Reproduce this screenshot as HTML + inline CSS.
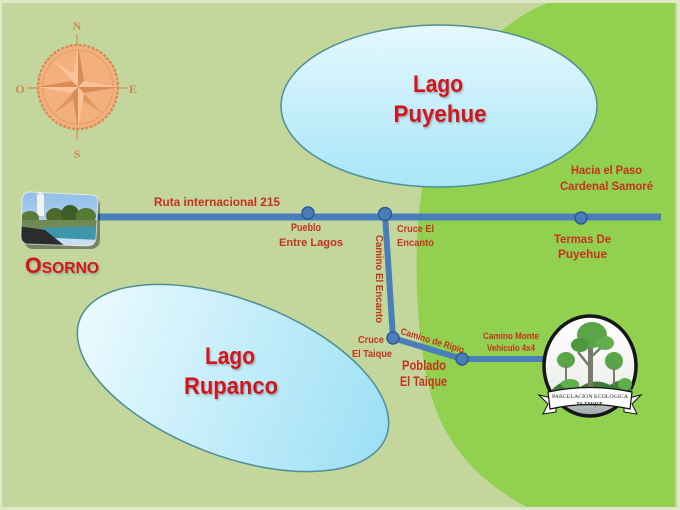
<!DOCTYPE html>
<html><head><meta charset="utf-8"><style>
html,body{margin:0;padding:0;background:#c4d79b;}
svg{display:block;}
text{font-family:"Liberation Sans",Arial,sans-serif;font-weight:bold;}
</style></head><body>
<svg width="680" height="510" viewBox="0 0 680 510" xmlns="http://www.w3.org/2000/svg">
<defs>
<linearGradient id="gp" x1="0" y1="0" x2="0" y2="1">
<stop offset="0" stop-color="#e6f8fd"/><stop offset="1" stop-color="#a8e5f9"/></linearGradient>
<linearGradient id="gr" x1="0" y1="0" x2="1" y2="0">
<stop offset="0" stop-color="#eafafe"/><stop offset="1" stop-color="#9ee0f6"/></linearGradient>
<linearGradient id="gl" x1="0" y1="0" x2="0" y2="1">
<stop offset="0" stop-color="#ffffff"/><stop offset="0.7" stop-color="#eef0ee"/><stop offset="1" stop-color="#9aa4a8"/></linearGradient>
<linearGradient id="sky" x1="0" y1="0" x2="0" y2="1">
<stop offset="0" stop-color="#8fbde8"/><stop offset="1" stop-color="#cfe3f2"/></linearGradient>
<filter id="sh" x="-10%" y="-10%" width="130%" height="140%">
<feDropShadow dx="1" dy="1.5" stdDeviation="1" flood-color="#6a6a6a" flood-opacity="0.55"/></filter>
</defs>

<rect x="0" y="0" width="680" height="510" fill="#dfe9c8"/>
<rect x="2" y="3" width="675" height="504" fill="#c3d69b"/>

<path d="M548,3 C515,15 480,45 458,80 C435,120 420,175 417,240 C415,300 420,370 438,415 C455,455 485,485 527,507 L675,507 L675,3 Z" fill="#92d050"/>

<ellipse cx="439" cy="106" rx="158" ry="81" fill="url(#gp)" stroke="#4e8f94" stroke-width="1.5"/>
<ellipse cx="233" cy="378" rx="164" ry="78" transform="rotate(21 233 378)" fill="url(#gr)" stroke="#4e8f94" stroke-width="1.5"/>

<!-- compass -->
<g>
<line x1="77" y1="34" x2="77" y2="140" stroke="#d58e5a" stroke-width="1.2"/>
<line x1="27" y1="88" x2="127" y2="88" stroke="#d58e5a" stroke-width="1.2"/>
<ellipse cx="78" cy="87" rx="40" ry="42" fill="#f4b07c" stroke="#d68a52" stroke-width="2.2" stroke-dasharray="3 1.5"/>
<ellipse cx="78" cy="87" rx="35" ry="37" fill="none" stroke="#e29e6a" stroke-width="1"/>
<polygon points="78,87 54,61 72,81" fill="#e09862"/>
<polygon points="78,87 54,61 84,81" fill="#f9c49c"/>
<polygon points="78,87 102,61 84,81" fill="#e09862"/>
<polygon points="78,87 54,113 84,93" fill="#e09862"/>
<polygon points="78,87 102,113 72,93" fill="#e09862"/>
<polygon points="78,45 72,81 78,87" fill="#f9c49c"/>
<polygon points="78,45 84,81 78,87" fill="#d98c55"/>
<polygon points="78,129 84,93 78,87" fill="#f9c49c"/>
<polygon points="78,129 72,93 78,87" fill="#d98c55"/>
<polygon points="37,87 72,81 78,87" fill="#d98c55"/>
<polygon points="37,87 72,93 78,87" fill="#f9c49c"/>
<polygon points="119,87 84,93 78,87" fill="#d98c55"/>
<polygon points="119,87 84,81 78,87" fill="#f9c49c"/>
<g font-size="12" fill="#d08a55" text-anchor="middle" style="font-family:'Liberation Serif',serif">
<text x="77" y="30" style="font-family:'Liberation Serif',serif">N</text>
<text x="77" y="158" style="font-family:'Liberation Serif',serif">S</text>
<text x="20" y="93" style="font-family:'Liberation Serif',serif">O</text>
<text x="133" y="93" style="font-family:'Liberation Serif',serif">E</text>
</g>
</g>

<!-- roads -->
<line x1="95" y1="217" x2="661" y2="217" stroke="#4a7ebb" stroke-width="7"/>
<polyline points="385,214 393,338 462,359 545,359" fill="none" stroke="#4a7ebb" stroke-width="6" stroke-linejoin="round"/>
<g fill="#4a7ebb" stroke="#2e5a8f" stroke-width="1.5">
<circle cx="308" cy="213" r="6"/>
<circle cx="385" cy="214" r="6.5"/>
<circle cx="581" cy="218" r="6"/>
<circle cx="393" cy="338" r="6"/>
<circle cx="462" cy="359" r="6"/>
</g>

<!-- Osorno photo -->
<g>
<rect x="24" y="196" width="76" height="53" rx="9" fill="#1e1e1e" opacity="0.45"/>
<clipPath id="pc"><path d="M30,192 L92,195 Q99,196 98,203 L96,238 Q95,246 87,246 L27,244 Q21,243 21,236 L22,200 Q23,192 30,192 Z"/></clipPath>
<g clip-path="url(#pc)">
<rect x="18" y="190" width="84" height="60" fill="url(#sky)"/>
<rect x="37" y="194" width="7" height="22" fill="#f2f2f2"/>
<polygon points="37,196 40.5,189 44,196" fill="#e8e8e8"/>
<ellipse cx="55" cy="216" rx="9" ry="8" fill="#4b6a2c"/>
<ellipse cx="70" cy="214" rx="9" ry="9" fill="#3f5f28"/>
<ellipse cx="86" cy="216" rx="10" ry="8" fill="#557a32"/>
<ellipse cx="30" cy="218" rx="9" ry="7" fill="#5c7a3a"/>
<rect x="18" y="220" width="84" height="10" fill="#6f8a55"/>
<polygon points="40,228 100,226 100,240 55,238" fill="#3d97a8"/>
<polygon points="18,226 45,230 65,246 18,250" fill="#2a2c2e"/>
</g>
<path d="M30,192 L92,195 Q99,196 98,203 L96,238 Q95,246 87,246 L27,244 Q21,243 21,236 L22,200 Q23,192 30,192 Z" fill="none" stroke="#ffffff" stroke-width="1" opacity="0.6"/>
</g>

<!-- logo -->
<g>
<ellipse cx="590" cy="366" rx="46" ry="50" fill="url(#gl)" stroke="#161616" stroke-width="3.5"/>
<path d="M550,392 Q565,374 580,387 Q595,377 610,385 Q625,374 632,390 L632,402 L550,402 Z" fill="#3d7d35"/>
<rect x="588" y="340" width="5" height="52" fill="#7a7a6a"/>
<path d="M590,367 L578,352 M591,357 L604,345" stroke="#7a7a6a" stroke-width="2.5"/>
<ellipse cx="592" cy="335" rx="15" ry="13" fill="#5aa547"/>
<ellipse cx="580" cy="345" rx="9" ry="7" fill="#4d9a3e"/>
<ellipse cx="605" cy="343" rx="9" ry="7" fill="#63ad4d"/>
<ellipse cx="566" cy="360" rx="9" ry="8" fill="#5aa547"/>
<rect x="565" y="364" width="2" height="20" fill="#7a7a6a"/>
<ellipse cx="614" cy="361" rx="9" ry="9" fill="#5aa547"/>
<rect x="613" y="367" width="2" height="18" fill="#7a7a6a"/>
<ellipse cx="570" cy="384" rx="9" ry="5" fill="#5fb04a"/>
<ellipse cx="625" cy="384" rx="7" ry="6" fill="#5fb04a"/>
<path d="M539,395 L556,399 L556,412 L543,414 L548,404 Z" fill="#fff" stroke="#111" stroke-width="1"/>
<path d="M641,395 L624,399 L624,412 L637,414 L632,404 Z" fill="#fff" stroke="#111" stroke-width="1"/>
<path d="M548,392 Q590,383 632,392 L630,409 Q590,400 550,409 Z" fill="#fff" stroke="#111" stroke-width="1.2"/>
<text x="590" y="398" font-size="5.6" text-anchor="middle" fill="#222" style="font-family:'Liberation Serif',serif;font-weight:normal" textLength="76" lengthAdjust="spacingAndGlyphs">PARCELACION ECOLOGICA</text>
<text x="590" y="405.5" font-size="5.2" text-anchor="middle" fill="#222" style="font-family:'Liberation Serif',serif" textLength="26" lengthAdjust="spacingAndGlyphs">EL TAIQUE</text>
</g>

<!-- lake labels -->
<g fill="#d0121b" font-size="24" text-anchor="middle" filter="url(#sh)">
<text x="438" y="92" textLength="50" lengthAdjust="spacingAndGlyphs">Lago</text>
<text x="440" y="122" textLength="93" lengthAdjust="spacingAndGlyphs">Puyehue</text>
<text x="230" y="364" textLength="50" lengthAdjust="spacingAndGlyphs">Lago</text>
<text x="231" y="394" textLength="94" lengthAdjust="spacingAndGlyphs">Rupanco</text>
</g>
<text x="25" y="273" fill="#d0121b" filter="url(#sh)" textLength="74" lengthAdjust="spacingAndGlyphs"><tspan font-size="22">O</tspan><tspan font-size="16">SORNO</tspan></text>

<!-- small labels -->
<g fill="#c4321e" font-size="11.5">
<text x="154" y="206" textLength="126" lengthAdjust="spacingAndGlyphs">Ruta internacional  215</text>
<text x="291" y="231" font-size="11" textLength="30" lengthAdjust="spacingAndGlyphs">Pueblo</text>
<text x="279" y="246" font-size="11" textLength="64" lengthAdjust="spacingAndGlyphs">Entre Lagos</text>
<text x="397" y="232" font-size="10.5" textLength="37" lengthAdjust="spacingAndGlyphs">Cruce El</text>
<text x="397" y="246" font-size="10.5" textLength="37" lengthAdjust="spacingAndGlyphs">Encanto</text>
<text x="571" y="174" textLength="71" lengthAdjust="spacingAndGlyphs">Hacia el Paso</text>
<text x="560" y="190" textLength="93" lengthAdjust="spacingAndGlyphs">Cardenal Samoré</text>
<text x="554" y="243" textLength="57" lengthAdjust="spacingAndGlyphs">Termas De</text>
<text x="558" y="258" textLength="49" lengthAdjust="spacingAndGlyphs">Puyehue</text>
<text transform="translate(376,235) rotate(90)" font-size="10.5" textLength="88" lengthAdjust="spacingAndGlyphs">Camino  El  Encanto</text>
<text x="358" y="343" font-size="10.5" textLength="26" lengthAdjust="spacingAndGlyphs">Cruce</text>
<text x="352" y="357" font-size="10.5" textLength="40" lengthAdjust="spacingAndGlyphs">El Taique</text>
<text transform="translate(400,334) rotate(17)" font-size="9.5" textLength="66" lengthAdjust="spacingAndGlyphs">Camino de Ripio</text>
<text x="402" y="370" font-size="13.5" textLength="44" lengthAdjust="spacingAndGlyphs">Poblado</text>
<text x="400" y="386" font-size="13.5" textLength="47" lengthAdjust="spacingAndGlyphs">El Taique</text>
<text x="483" y="339" font-size="9" textLength="56" lengthAdjust="spacingAndGlyphs">Camino Monte</text>
<text x="487" y="351" font-size="9" textLength="48" lengthAdjust="spacingAndGlyphs">Vehiculo 4x4</text>
</g>
</svg>
</body></html>
